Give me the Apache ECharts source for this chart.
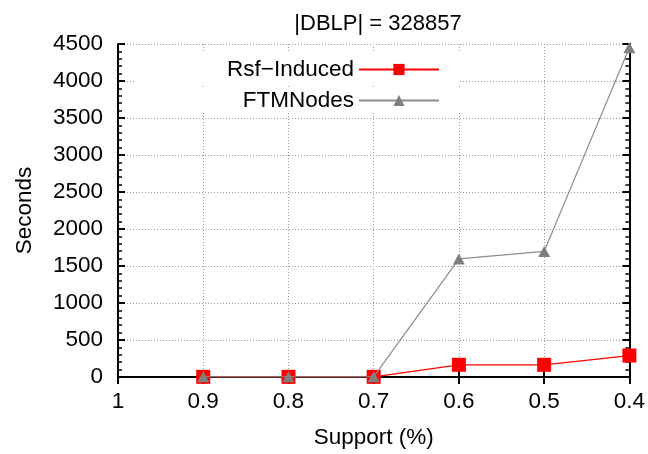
<!DOCTYPE html>
<html>
<head>
<meta charset="utf-8">
<script src="https://cdn.jsdelivr.net/npm/echarts@6/dist/echarts.min.js"></script>
<style>
html,body{margin:0;padding:0;background:#fff;}
#chart{width:648px;height:454px;}
</style>
</head>
<body>
<div id="chart"></div>
<script>
var supportLabels = ['1', '0.9', '0.8', '0.7', '0.6', '0.5', '0.4'];
var rsfInduced = [null, 2, 2, 2, 165, 165, 290];
var ftmNodes = [null, 2, 2, 2, 1595, 1697, 4450];
var yTicks = {min: 0, max: 4500, interval: 500};
var titleText = '|DBLP| = 328857';
var seriesNames = ['Rsf\u2212Induced', 'FTMNodes'];

var FONT = "'Liberation Sans', Arial, sans-serif";
var FS = 22.5;
var chart = echarts.init(document.getElementById('chart'), null, {renderer: 'canvas'});

var gridLine = {show: true, lineStyle: {color: '#999', type: [1, 2], width: 1}};

var option = {
  backgroundColor: '#fff',
  animation: false,
  title: {
    text: titleText,
    left: 373, top: 8, textAlign: 'center',
    textStyle: {fontFamily: FONT, fontSize: 22, fontWeight: 'normal', color: '#000'}
  },
  legend: [
    {
      data: [seriesNames[0]], right: 188, top: 52, align: 'right',
      itemWidth: 80, itemHeight: 14, itemGap: 10,
      backgroundColor: '#fff', padding: [6, 20, 4, 92],
      textStyle: {fontFamily: FONT, fontSize: FS, color: '#000'}
    },
    {
      data: [seriesNames[1]], right: 188, top: 87, align: 'right',
      itemWidth: 80, itemHeight: 14, itemGap: 10,
      backgroundColor: '#fff', padding: [2, 20, 0, 106],
      textStyle: {fontFamily: FONT, fontSize: FS, color: '#000'}
    }
  ],
  grid: {left: 118, right: 16, top: 44, bottom: 76, containLabel: false},
  xAxis: [
    {
      type: 'category', data: supportLabels, boundaryGap: false,
      name: 'Support (%)', nameLocation: 'middle', nameGap: 49,
      nameTextStyle: {fontFamily: FONT, fontSize: FS, color: '#000'},
      axisLine: {show: true, lineStyle: {color: '#000', width: 2}},
      axisTick: {show: true, inside: true, length: 7, lineStyle: {color: '#000', width: 2}},
      axisLabel: {fontFamily: FONT, fontSize: FS, color: '#000', margin: 13},
      splitLine: gridLine
    },
    {
      type: 'category', data: supportLabels, boundaryGap: false, position: 'top',
      axisLine: {show: true, lineStyle: {color: '#000', width: 2}},
      axisTick: {show: true, inside: true, length: 7, lineStyle: {color: '#000', width: 2}},
      axisLabel: {show: false}, splitLine: {show: false}
    }
  ],
  yAxis: [
    {
      type: 'value', min: yTicks.min, max: yTicks.max, interval: yTicks.interval,
      name: 'Seconds', nameLocation: 'middle', nameGap: 82, nameRotate: 90,
      nameTextStyle: {fontFamily: FONT, fontSize: FS, color: '#000'},
      axisLine: {show: true, lineStyle: {color: '#000', width: 2}},
      axisTick: {show: true, inside: true, length: 7, lineStyle: {color: '#000', width: 2}},
      minorTick: {show: true, splitNumber: 5, length: 4, lineStyle: {color: '#000', width: 1.5}},
      axisLabel: {fontFamily: FONT, fontSize: FS, color: '#000', margin: 15,
        formatter: function (v) { return String(v); }},
      splitLine: gridLine
    },
    {
      type: 'value', min: yTicks.min, max: yTicks.max, interval: yTicks.interval, position: 'right',
      axisLine: {show: true, lineStyle: {color: '#000', width: 2}},
      axisTick: {show: true, inside: true, length: 7, lineStyle: {color: '#000', width: 2}},
      minorTick: {show: true, splitNumber: 5, length: 4, lineStyle: {color: '#000', width: 1.5}},
      axisLabel: {show: false}, splitLine: {show: false}
    }
  ],
  series: [
    {
      name: seriesNames[1], type: 'line', data: ftmNodes,
      symbol: 'triangle', symbolSize: [12, 11], showSymbol: true,
      itemStyle: {color: '#7f7f7f'},
      lineStyle: {color: '#8c8c8c', width: 1.2},
      connectNulls: false, z: 3
    },
    {
      name: seriesNames[0], type: 'line', data: rsfInduced,
      symbol: 'rect', symbolSize: 14, showSymbol: true,
      itemStyle: {color: '#ff0000'},
      lineStyle: {color: '#ff0000', width: 1.2},
      connectNulls: false, z: 2
    }
  ]
};
chart.setOption(option);
</script>
</body>
</html>
